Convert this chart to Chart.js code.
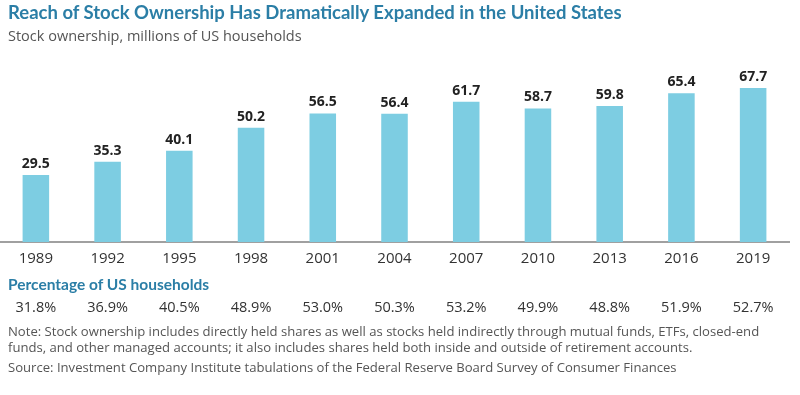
<!DOCTYPE html>
<html>
<head>
<meta charset="utf-8">
<script src="https://cdn.jsdelivr.net/npm/chart.js@4"></script>
<style>
  body { margin: 0; background: #fff; font-family: "Open Sans", sans-serif; }
  #wrap { position: relative; width: 800px; height: 395px; overflow: hidden; }
  #chart { position: absolute; left: 0; top: 0; }
  .txt { position: absolute; left: 8px; white-space: nowrap; }
  #title { top: 1px; font-family: Lato, sans-serif; font-weight: bold; font-size: 18.5px; color: #2b7ea6; }
  #sub { top: 26px; font-size: 14.5px; color: #555; }
  #pcthead { top: 275px; font-family: Lato, sans-serif; font-weight: bold; font-size: 15.5px; color: #2b7ea6; }
  #note { top: 323px; font-size: 13.1px; line-height: 16px; color: #555; }
  #source { top: 358px; font-size: 13.1px; color: #555; }
</style>
</head>
<body>
<div id="wrap">
  <canvas id="chart" width="800" height="395"></canvas>
  <div class="txt" id="title">Reach of Stock Ownership Has Dramatically Expanded in the United States</div>
  <div class="txt" id="sub">Stock ownership, millions of US households</div>
  <div class="txt" id="pcthead">Percentage of US households</div>
  <div class="txt" id="note">Note: Stock ownership includes directly held shares as well as stocks held indirectly through mutual funds, ETFs, closed-end<br>funds, and other managed accounts; it also includes shares held both inside and outside of retirement accounts.</div>
  <div class="txt" id="source">Source: Investment Company Institute tabulations of the Federal Reserve Board Survey of Consumer Finances</div>
</div>
<script>
// chart values
const years = ['1989', '1992', '1995', '1998', '2001', '2004', '2007', '2010', '2013', '2016', '2019'];
const households = [29.5, 35.3, 40.1, 50.2, 56.5, 56.4, 61.7, 58.7, 59.8, 65.4, 67.7];
const percentages = ['31.8%', '36.9%', '40.5%', '48.9%', '53.0%', '50.3%', '53.2%', '49.9%', '48.8%', '51.9%', '52.7%'];

// value labels over the bars and the percentage row under the axis
const labelsPlugin = {
  id: 'labels',
  afterDatasetsDraw(chart) {
    const ctx = chart.ctx;
    const meta = chart.getDatasetMeta(0);
    ctx.save();
    ctx.fillStyle = '#222';
    ctx.font = 'bold 14px "Open Sans"';
    ctx.textAlign = 'center';
    ctx.textBaseline = 'bottom';
    meta.data.forEach((bar, i) => {
      ctx.fillText(households[i].toFixed(1), bar.x, bar.y - 4);
    });

    ctx.font = '14.5px "Open Sans"';
    ctx.fillStyle = '#333';
    ctx.textBaseline = 'middle';
    const xs = chart.scales.x;
    percentages.forEach((p, i) => {
      ctx.fillText(p, xs.getPixelForValue(i), 308);
    });
    ctx.restore();
  }
};

new Chart(document.getElementById('chart'), {
  type: 'bar',
  data: {
    labels: years,
    datasets: [{
      data: households,
      backgroundColor: '#7dcde2',
      barPercentage: 1,
      categoryPercentage: 0.37
    }]
  },
  options: {
    responsive: false,
    animation: false,
    layout: { padding: { top: 60, bottom: 127, left: 0, right: 11 } },
    plugins: { legend: { display: false }, tooltip: { enabled: false } },
    scales: {
      x: {
        grid: { display: false },
        border: { display: true, color: '#a0a0a0', width: 2 },
        ticks: { color: '#333', font: { family: 'Open Sans', size: 15 }, padding: 0 }
      },
      y: {
        display: false,
        min: 0,
        max: 80
      }
    }
  },
  plugins: [labelsPlugin]
});
</script>
</body>
</html>
